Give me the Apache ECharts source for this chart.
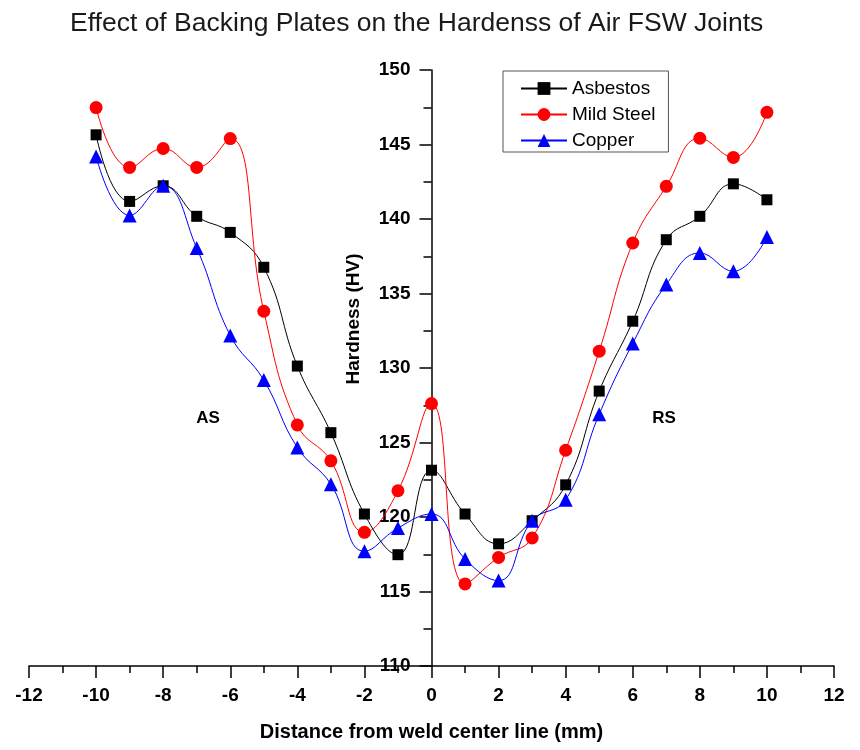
<!DOCTYPE html>
<html>
<head>
<meta charset="utf-8">
<title>Backing plate hardness</title>
<script src="https://cdn.jsdelivr.net/npm/echarts@6/dist/echarts.min.js"></script>
<style>
  html, body { margin: 0; padding: 0; background: #fff; }
  #chart { width: 860px; height: 750px; }
</style>
</head>
<body>
<div id="chart"></div>
<script>
// Distance from the weld centre line (mm)
const distance = [-10, -9, -8, -7, -6, -5, -4, -3, -2, -1, 0, 1, 2, 3, 4, 5, 6, 7, 8, 9, 10];

// Vickers hardness (HV) for each backing plate material
const asbestos = [145.65, 141.18, 142.23, 140.18, 139.1, 136.76, 130.13, 125.66, 120.2, 117.47, 123.14,
                  120.2, 118.2, 119.75, 122.16, 128.45, 133.14, 138.61, 140.18, 142.36, 141.29];
const mildSteel = [147.48, 143.46, 144.73, 143.46, 145.4, 133.81, 126.18, 123.77, 118.97, 121.76, 127.61,
                   115.51, 117.29, 118.59, 124.48, 131.13, 138.39, 142.19, 145.42, 144.13, 147.16];
const copper = [144.2, 140.24, 142.23, 138.05, 132.18, 129.19, 124.66, 122.2, 117.7, 119.26, 120.2,
                117.18, 115.73, 119.75, 121.15, 126.9, 131.65, 135.6, 137.72, 136.49, 138.79];

const seriesNames = ['Asbestos', 'Mild Steel', 'Copper'];
const seriesColors = ['#000000', '#ff0000', '#0000ff'];
const seriesSymbols = ['rect', 'circle', 'triangle'];
const seriesSizes = [11, 13, 14];
const seriesValues = [asbestos, mildSteel, copper];

// Side labels: advancing side (AS) and retreating side (RS)
const sideLabels = [
  { text: 'AS', at: [-6.66, 126.6] },
  { text: 'RS', at: [6.93, 126.6] }
];

const FONT = '"Liberation Sans", Arial, Helvetica, sans-serif';
const GRID_LEFT = 29, GRID_RIGHT = 26;

const chart = echarts.init(document.getElementById('chart'), null, { renderer: 'canvas' });

const series = seriesNames.map((name, i) => ({
  name: name,
  type: 'line',
  smooth: 0.45,
  data: distance.map((d, k) => [d, seriesValues[i][k]]),
  symbol: seriesSymbols[i],
  symbolSize: seriesSizes[i],
  showAllSymbol: true,
  lineStyle: { color: seriesColors[i], width: 1 },
  itemStyle: { color: seriesColors[i], borderWidth: 0 },
  emphasis: { disabled: true },
  z: 2 + i
}));

// The hardness axis sits on the weld centre line (x = 0)
const xMin = -12, xMax = 12;
const plotWidth = 860 - GRID_LEFT - GRID_RIGHT;
const yAxisShift = -plotWidth * (0 - xMin) / (xMax - xMin);

chart.setOption({
  animation: false,
  backgroundColor: '#ffffff',
  title: {
    text: 'Effect of Backing Plates on the Hardenss of Air FSW Joints',
    left: 65,
    top: 5,
    textStyle: { fontFamily: FONT, fontSize: 26.5, fontWeight: 'normal', color: '#1a1a1a' }
  },
  legend: {
    orient: 'vertical',
    left: 503,
    top: 71,
    padding: [8, 13, 2, 17],
    itemWidth: 46,
    itemHeight: 16,
    itemGap: 7,
    borderColor: '#555555',
    borderWidth: 1,
    textStyle: { fontFamily: FONT, fontSize: 19, color: '#000' },
    data: seriesNames
  },
  grid: { left: GRID_LEFT, right: GRID_RIGHT, top: 70, bottom: 84, containLabel: false, outerBoundsMode: 'none' },
  xAxis: {
    type: 'value',
    min: xMin,
    max: xMax,
    interval: 2,
    name: 'Distance from weld center line (mm)',
    nameLocation: 'middle',
    nameGap: 56,
    nameTextStyle: { fontFamily: FONT, fontSize: 20, fontWeight: 'bold', color: '#000' },
    axisLine: { onZero: false, lineStyle: { color: '#000', width: 1.5 } },
    axisTick: { show: true, inside: false, length: 12, lineStyle: { color: '#000', width: 1.5 } },
    minorTick: { show: true, splitNumber: 2, length: 7, lineStyle: { color: '#000', width: 1.5 } },
    axisLabel: { fontFamily: FONT, fontSize: 19, fontWeight: 'bold', color: '#000', margin: 20 },
    splitLine: { show: false },
    minorSplitLine: { show: false }
  },
  yAxis: {
    type: 'value',
    min: 110,
    max: 150,
    interval: 5,
    position: 'left',
    offset: yAxisShift,
    axisLine: { show: true, onZero: false, lineStyle: { color: '#000', width: 1.5 } },
    axisTick: { show: true, inside: false, length: 12, lineStyle: { color: '#000', width: 1.5 } },
    minorTick: { show: true, splitNumber: 2, length: 8, lineStyle: { color: '#000', width: 1.5 } },
    axisLabel: { fontFamily: FONT, fontSize: 19, fontWeight: 'bold', color: '#000', margin: 21 },
    splitLine: { show: false },
    minorSplitLine: { show: false }
  },
  series: series
});

// Axis title for hardness and the AS / RS side annotations
const graphics = [{
  type: 'text',
  x: 354,
  y: 319,
  rotation: Math.PI / 2,
  style: {
    text: 'Hardness (HV)',
    font: 'bold 19px ' + FONT,
    fill: '#000',
    align: 'center',
    verticalAlign: 'middle'
  }
}];
sideLabels.forEach(lbl => {
  const p = chart.convertToPixel({ gridIndex: 0 }, lbl.at);
  graphics.push({
    type: 'text',
    x: p[0],
    y: p[1],
    style: {
      text: lbl.text,
      font: 'bold 17px ' + FONT,
      fill: '#000',
      align: 'center',
      verticalAlign: 'middle'
    }
  });
});
chart.setOption({ graphic: graphics });
</script>
</body>
</html>
